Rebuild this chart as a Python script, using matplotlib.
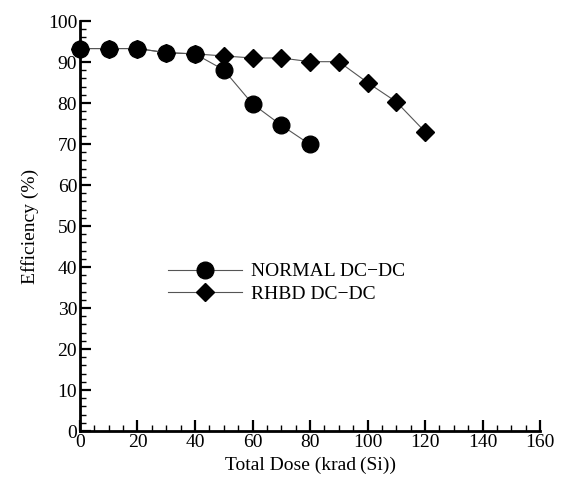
import matplotlib
matplotlib.use("Agg")
import matplotlib.pyplot as plt
from matplotlib.ticker import MultipleLocator

# dose in krad(Si)
dose_normal = [0, 10, 20, 30, 40, 50, 60, 70, 80]
eff_normal = [93.3, 93.3, 93.3, 92.3, 92.0, 88.1, 79.8, 74.6, 69.9]

dose_rhbd = [0, 10, 20, 30, 40, 50, 60, 70, 80, 90, 100, 110, 120]
eff_rhbd = [93.3, 93.3, 93.3, 92.3, 92.0, 91.5, 91.0, 91.0, 90.1, 90.1, 85.0, 80.3, 73.0]

plt.rcParams['font.family'] = ['Liberation Serif', 'DejaVu Serif']

fig = plt.figure(figsize=(5.66, 4.86), dpi=100)
ax = fig.add_axes([0.1413, 0.113, 0.813, 0.8436])

ax.plot(dose_normal, eff_normal, color='#555555', lw=0.8, marker='o',
        markersize=12, markerfacecolor='black', markeredgecolor='black',
        label='NORMAL DC\u2212DC', clip_on=False, zorder=3)
ax.plot(dose_rhbd, eff_rhbd, color='#555555', lw=0.8, marker='D',
        markersize=9.5, markerfacecolor='black', markeredgecolor='black',
        label='RHBD DC\u2212DC', clip_on=False, zorder=3)

ax.set_xlim(0, 160)
ax.set_ylim(0, 100)
ax.xaxis.set_major_locator(MultipleLocator(20))
ax.xaxis.set_minor_locator(MultipleLocator(5))
ax.yaxis.set_major_locator(MultipleLocator(10))
ax.yaxis.set_minor_locator(MultipleLocator(2))

for s in ['top', 'right']:
    ax.spines[s].set_visible(False)
for s in ['left', 'bottom']:
    ax.spines[s].set_linewidth(2)

ax.tick_params(which='major', direction='in', length=8, width=1.6, labelsize=14, pad=2)
ax.tick_params(which='minor', direction='in', length=4, width=1)

ax.set_xlabel('Total Dose (krad\u2009(Si))', fontsize=14, labelpad=4)
ax.set_ylabel('Efficiency (%)', fontsize=14, labelpad=6)

ax.legend(loc='upper left', bbox_to_anchor=(0.153, 0.453), frameon=False,
          fontsize=14, handlelength=3.8, handletextpad=0.5, labelspacing=0.25)

fig.savefig('out.png', dpi=100)
